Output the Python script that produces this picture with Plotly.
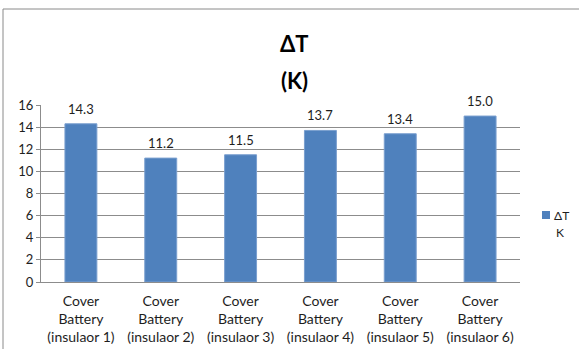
import plotly.graph_objects as go

# Temperature rise per battery cover insulator
categories = [
    "Cover<br>Battery<br>(insulaor 1)",
    "Cover<br>Battery<br>(insulaor 2)",
    "Cover<br>Battery<br>(insulaor 3)",
    "Cover<br>Battery<br>(insulaor 4)",
    "Cover<br>Battery<br>(insulaor 5)",
    "Cover<br>Battery<br>(insulaor 6)",
]
delta_t = [14.3, 11.2, 11.5, 13.7, 13.4, 15.0]
y_ticks = [0, 2, 4, 6, 8, 10, 12, 14, 16]
series_name = "ΔT"
series_unit = "K"

W, H = 579, 349
L, R, T, B = 41, 59, 105, 67
plot_w = W - L - R
plot_h = H - T - B

FONT = "Lato, 'Open Sans', sans-serif"
TXT = "#1e1e1e"
GRID = "#8c8c8c"
BAR = "#4f81bd"

fig = go.Figure()
fig.add_trace(go.Bar(
    x=categories,
    y=delta_t,
    name=series_name,
    showlegend=False,
    marker=dict(color=BAR, line=dict(color="#7a9fcf", width=1)),
    width=0.4,
))

# value labels above each bar
for c, v in zip(categories, delta_t):
    fig.add_annotation(x=c, y=v, text=f"{v:.1f}", showarrow=False,
                       yanchor="bottom", yshift=5,
                       font=dict(family=FONT, size=13, color=TXT))


def px_x(px):
    return (px - L) / plot_w


def px_y(py):
    return (H - B - py) / plot_h


# two-line bold title
fig.add_annotation(x=px_x(294), y=px_y(44), xref="paper", yref="paper",
                   text="<b>ΔT</b>", showarrow=False, yanchor="middle",
                   font=dict(family=FONT, size=22, color="#000000"))
fig.add_annotation(x=px_x(294), y=px_y(80), xref="paper", yref="paper",
                   text="<b>(K)</b>", showarrow=False, yanchor="middle",
                   font=dict(family=FONT, size=22, color="#000000"))

# compact legend key on the right
fig.add_shape(type="rect", xref="paper", yref="paper",
              x0=px_x(542), x1=px_x(550), y0=px_y(219), y1=px_y(211),
              fillcolor=BAR, line=dict(width=0))
fig.add_annotation(x=px_x(552), y=px_y(215), xref="paper", yref="paper",
                   text=series_name, showarrow=False, xanchor="left",
                   yanchor="middle", font=dict(family=FONT, size=12, color=TXT))
fig.add_annotation(x=px_x(559.5), y=px_y(232), xref="paper", yref="paper",
                   text=series_unit, showarrow=False, xanchor="center",
                   yanchor="middle", font=dict(family=FONT, size=12, color=TXT))

# chart-area border (left and top edges)
fig.add_shape(type="line", xref="paper", yref="paper",
              x0=px_x(3), x1=px_x(3), y0=px_y(9), y1=px_y(H + 5),
              line=dict(color="#8a8a8a", width=1))
fig.add_shape(type="line", xref="paper", yref="paper",
              x0=px_x(3), x1=px_x(W + 5), y0=px_y(9), y1=px_y(9),
              line=dict(color="#8a8a8a", width=1))

fig.update_layout(
    width=W, height=H,
    margin=dict(l=L, r=R, t=T, b=B, autoexpand=False),
    paper_bgcolor="white",
    plot_bgcolor="white",
    font=dict(family=FONT, size=13, color=TXT),
    showlegend=False,
    bargap=0.6,
)
fig.update_xaxes(showline=True, linecolor=GRID, linewidth=1,
                 ticks="", ticklabelstandoff=6,
                 tickfont=dict(family=FONT, size=14, color=TXT),
                 showgrid=False)
fig.update_yaxes(range=[0, 16], tickvals=y_ticks, showline=True,
                 linecolor=GRID, linewidth=1, gridcolor=GRID, gridwidth=1,
                 ticks="outside", ticklen=4, tickcolor=GRID,
                 tickfont=dict(family=FONT, size=13, color=TXT),
                 zeroline=False)

fig.write_html("out.html")
